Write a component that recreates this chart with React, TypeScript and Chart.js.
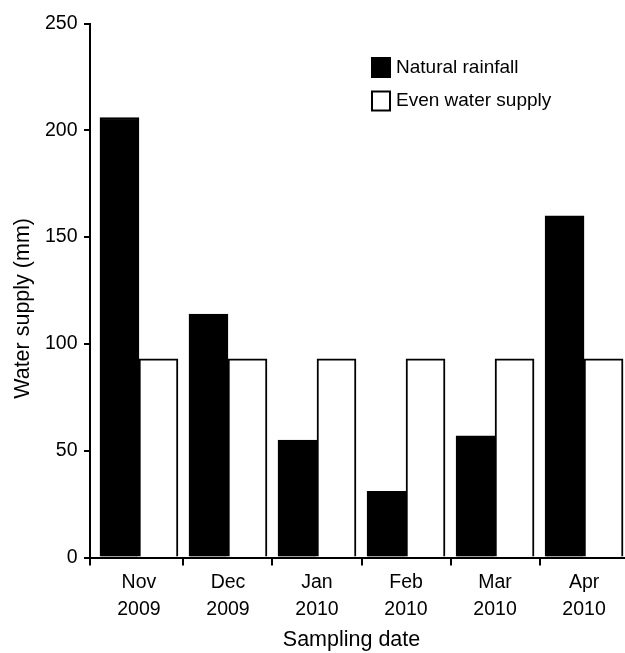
import React, { useEffect, useRef } from 'react';
import { Chart, registerables } from 'chart.js';

Chart.register(...registerables);

// ---- data ----
const categories: string[][] = [
  ['Nov', '2009'],
  ['Dec', '2009'],
  ['Jan', '2010'],
  ['Feb', '2010'],
  ['Mar', '2010'],
  ['Apr', '2010'],
];
const naturalRainfall: number[] = [206, 114, 55, 31, 57, 160];
const evenWaterSupply: number[] = [93, 93, 93, 93, 93, 93];
const seriesLabels: string[] = ['Natural rainfall', 'Even water supply'];
const yTickMin = 0;
const yTickMax = 250;
const yTickStep = 50;
const xTitle = 'Sampling date';
const yTitle = 'Water supply (mm)';

const FONT = "'Liberation Sans', Arial, Helvetica, sans-serif";

const insetLegend = {
  id: 'insetLegend',
  afterDraw(chart: any) {
    const ctx = chart.ctx as CanvasRenderingContext2D;
    const x = 371;
    const y0 = 57;
    const w = 20;
    const h = 21;
    const gap = 33.5;
    ctx.save();
    ctx.font = `19px ${FONT}`;
    ctx.textBaseline = 'middle';
    ctx.textAlign = 'left';
    chart.data.datasets.forEach((ds: any, i: number) => {
      const y = y0 + i * gap;
      ctx.fillStyle = ds.backgroundColor;
      ctx.fillRect(x, y, w, h);
      ctx.lineWidth = 2;
      ctx.strokeStyle = ds.borderColor;
      ctx.strokeRect(x + 1, y + 1, w - 2, h - 2);
      ctx.fillStyle = '#000';
      ctx.fillText(ds.label, x + 25, y + h / 2);
    });
    ctx.restore();
  },
};

export default function App() {
  const ref = useRef<HTMLCanvasElement>(null);

  useEffect(() => {
    if (!ref.current) return;
    const chart = new Chart(ref.current, {
      type: 'bar',
      data: {
        datasets: [
          {
            label: seriesLabels[0],
            data: naturalRainfall.map((v, i) => ({ x: i, y: v })),
            backgroundColor: '#000',
            borderColor: '#000',
            borderWidth: 2,
            barThickness: 39,
          },
          {
            label: seriesLabels[1],
            data: evenWaterSupply.map((v, i) => ({ x: i, y: v })),
            backgroundColor: '#fff',
            borderColor: '#000',
            borderWidth: 2,
            barThickness: 39,
          },
        ],
      },
      options: {
        responsive: false,
        animation: false,
        layout: { padding: { top: 23.5, left: 0, right: 0, bottom: 0 } },
        plugins: {
          legend: { display: false },
          tooltip: { enabled: false },
        },
        scales: {
          x: {
            type: 'linear',
            min: -0.55,
            max: 5.46,
            offset: false,
            bounds: 'data',
            afterBuildTicks: (scale: any) => {
              const t: { value: number }[] = [{ value: scale.min }];
              categories.forEach((_, i) => {
                t.push({ value: i });
                t.push({ value: i + 0.5 });
              });
              scale.ticks = t
                .filter((tk) => tk.value >= scale.min && tk.value <= scale.max)
                .sort((a, b) => a.value - b.value);
            },
            afterFit: (scale: any) => {
              scale.height = 95.5;
            },
            ticks: {
              autoSkip: false,
              maxRotation: 0,
              minRotation: 0,
              padding: 3,
              color: '#000',
              font: { family: FONT, size: 19.5, lineHeight: 1.405 },
              callback: (value: any) =>
                Number.isInteger(value) ? categories[value] : '',
            },
            grid: {
              display: true,
              offset: false,
              drawOnChartArea: false,
              drawTicks: true,
              tickLength: 8,
              lineWidth: 2,
              tickWidth: 2,
              color: '#000',
              tickColor: (ctx: any) =>
                ctx.tick && Number.isInteger(ctx.tick.value) ? 'rgba(0,0,0,0)' : '#000',
            },
            border: { display: true, color: '#000', width: 2 },
            title: {
              display: true,
              text: xTitle + '  ',
              color: '#000',
              font: { family: FONT, size: 21.5, lineHeight: 1.2 },
              padding: 0,
            },
          },
          y: {
            type: 'linear',
            min: yTickMin,
            max: yTickMax,
            ticks: {
              stepSize: yTickStep,
              padding: 6.5,
              color: '#000',
              font: { family: FONT, size: 19.5 },
            },
            grid: {
              drawOnChartArea: false,
              tickLength: 6,
              lineWidth: 2,
              color: '#000',
            },
            border: { display: true, color: '#000', width: 2 },
            title: {
              display: true,
              text: yTitle + '      ',
              color: '#000',
              font: { family: FONT, size: 21.5, lineHeight: 1.2 },
              padding: { top: 10, bottom: 0 },
            },
            afterFit: (scale: any) => {
              scale.width = 90;
            },
          },
        },
      } as any,
      plugins: [insetLegend],
    });
    return () => chart.destroy();
  }, []);

  return (
    <div style={{ position: 'absolute', left: 0, top: 0, width: 625, height: 653, overflow: 'hidden' }}>
      <canvas ref={ref} width={625} height={653} style={{ display: 'block' }} />
    </div>
  );
}
